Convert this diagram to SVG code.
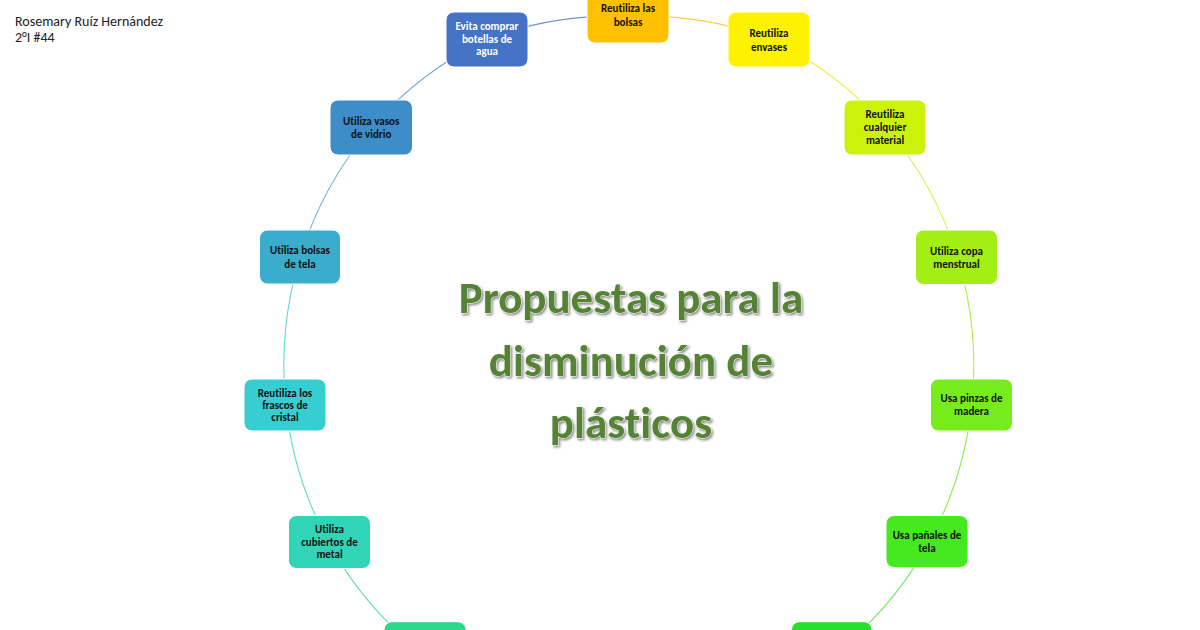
<svg xmlns="http://www.w3.org/2000/svg" width="1200" height="630" viewBox="0 0 1200 630">
<defs>
<style>
text{font-variant-ligatures:none}
.box{stroke:#ffffff;stroke-width:1}
.t{font-family:Carlito,Lato,"Liberation Sans",sans-serif;font-size:11px;font-weight:bold;fill:#111111;text-anchor:middle}
.tw{fill:#ffffff}
.c{fill:none;stroke-width:1.1}
.title{font-family:Carlito,Lato,"Liberation Sans",sans-serif;font-size:45px;font-weight:bold;fill:#548235;stroke:#f4f8f0;stroke-width:1;paint-order:stroke;text-anchor:middle}
.hdr{font-family:Carlito,Lato,"Liberation Sans",sans-serif;font-size:14px;fill:#222222}
</style>
<filter id="sh" x="-10%" y="-20%" width="120%" height="140%">
<feDropShadow dx="1.5" dy="1.8" stdDeviation="1" flood-color="#7a7a7a" flood-opacity="0.85"/>
</filter>
</defs>
<rect x="0" y="0" width="1200" height="630" fill="#ffffff"/>
<g id="header">
<text class="hdr" x="15" y="25.5">Rosemary Ruíz Hernández</text>
<text class="hdr" x="15" y="41.5">2°I #44</text>
</g>
<g id="connectors">
<path class="c" stroke="#FFCB4A" d="M628.8 17 A345 358 0 0 1 769.1 39"/>
<path class="c" stroke="#F2EA3C" d="M769.1 39 A345 358 0 0 1 885.2 126.5"/>
<path class="c" stroke="#D4F04A" d="M885.2 126.5 A345 358 0 0 1 956.9 255.4"/>
<path class="c" stroke="#B0EE40" d="M956.9 255.4 A345 358 0 0 1 971.9 403.4"/>
<path class="c" stroke="#8CEC50" d="M971.9 403.4 A345 358 0 0 1 927.6 545"/>
<path class="c" stroke="#66E85A" d="M927.6 545 A345 358 0 0 1 831.6 655.6"/>
<path class="c" stroke="#4DE070" d="M831.6 655.6 A345 358 0 0 1 700.5 716.2"/>
<path class="c" stroke="#4DDC90" d="M557.1 716.2 A345 358 0 0 1 426 655.6"/>
<path class="c" stroke="#55DEB0" d="M426 655.6 A345 358 0 0 1 330 545"/>
<path class="c" stroke="#5CDCC8" d="M330 545 A345 358 0 0 1 285.7 403.4"/>
<path class="c" stroke="#5ED6DA" d="M285.7 403.4 A345 358 0 0 1 300.7 255.4"/>
<path class="c" stroke="#62B8D8" d="M300.7 255.4 A345 358 0 0 1 372.4 126.5"/>
<path class="c" stroke="#6AA4D6" d="M372.4 126.5 A345 358 0 0 1 488.5 39"/>
<path class="c" stroke="#6E90D2" d="M488.5 39 A345 358 0 0 1 628.8 17"/>
</g>
<g id="title" filter="url(#sh)">
<text class="title" x="631" y="313">Propuestas para la</text>
<text class="title" x="631" y="376">disminución de</text>
<text class="title" x="631" y="438">plásticos</text>
</g>
<g id="n-bolsas">
<rect class="box" x="587" y="-13" width="82" height="56" rx="8" fill="#FFC000"/>
<text class="t" x="628" y="11.5">Reutiliza las</text>
<text class="t" x="628" y="25.5">bolsas</text>
</g>
<g id="n-envases">
<rect class="box" x="728" y="12" width="82" height="55" rx="8" fill="#FFF200"/>
<text class="t" x="769" y="36.5">Reutiliza</text>
<text class="t" x="769" y="50.5">envases</text>
</g>
<g id="n-cualquier">
<rect class="box" x="844" y="100" width="82" height="55" rx="8" fill="#CCF20C"/>
<text class="t" x="885" y="118">Reutiliza</text>
<text class="t" x="885" y="131">cualquier</text>
<text class="t" x="885" y="144">material</text>
</g>
<g id="n-copa">
<rect class="box" x="915.5" y="230" width="82" height="54.5" rx="8" fill="#A3EE14"/>
<text class="t" x="956.5" y="255">Utiliza copa</text>
<text class="t" x="956.5" y="268">menstrual</text>
</g>
<g id="n-pinzas">
<rect class="box" x="930.5" y="379" width="82" height="52" rx="8" fill="#76EC1A"/>
<text class="t" x="971.5" y="402">Usa pinzas de</text>
<text class="t" x="971.5" y="415">madera</text>
</g>
<g id="n-panales">
<rect class="box" x="886" y="515.5" width="82" height="52" rx="8" fill="#46E820"/>
<text class="t" x="927" y="539">Usa pañales de</text>
<text class="t" x="927" y="551.5">tela</text>
</g>
<g id="n-bottom-right">
<rect class="box" x="791.5" y="621.7" width="80.5" height="56" rx="8" fill="#22E22A"/>
</g>
<g id="n-bottom-left">
<rect class="box" x="384" y="621.7" width="82" height="56" rx="8" fill="#2AD88C"/>
</g>
<g id="n-cubiertos">
<rect class="box" x="288.5" y="515.5" width="82" height="53" rx="8" fill="#31D4B7"/>
<text class="t" x="329.5" y="533">Utiliza</text>
<text class="t" x="329.5" y="545.5">cubiertos de</text>
<text class="t" x="329.5" y="558">metal</text>
</g>
<g id="n-frascos">
<rect class="box" x="244" y="379" width="82" height="52" rx="8" fill="#37CED2"/>
<text class="t" x="285" y="396.5">Reutiliza los</text>
<text class="t" x="285" y="409">frascos de</text>
<text class="t" x="285" y="421">cristal</text>
</g>
<g id="n-bolsas-tela">
<rect class="box" x="259.5" y="230" width="81" height="54" rx="8" fill="#3AACCC"/>
<text class="t" x="300" y="253.5">Utiliza bolsas</text>
<text class="t" x="300" y="267.5">de tela</text>
</g>
<g id="n-vasos">
<rect class="box" x="330" y="100" width="82.5" height="55" rx="8" fill="#3D8DC9"/>
<text class="t" x="371.2" y="124.5">Utiliza vasos</text>
<text class="t" x="371.2" y="137.7">de vidrio</text>
</g>
<g id="n-evita">
<rect class="box" x="446" y="12" width="82" height="55" rx="8" fill="#4472C4"/>
<text class="t tw" x="487" y="29.5">Evita comprar</text>
<text class="t tw" x="487" y="42.5">botellas de</text>
<text class="t tw" x="487" y="55">agua</text>
</g>
</svg>
